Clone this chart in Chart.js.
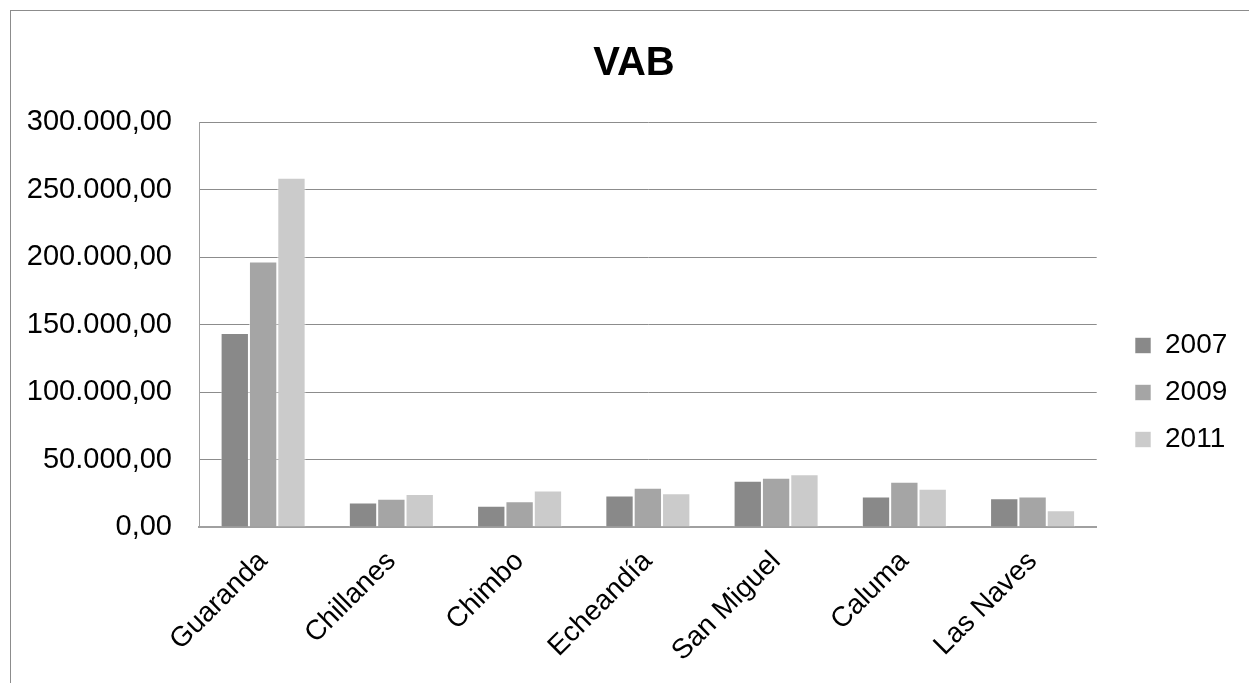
<!DOCTYPE html>
<html>
<head>
<meta charset="utf-8">
<script src="https://cdn.jsdelivr.net/npm/chart.js@4.4.1/dist/chart.umd.min.js"></script>
<style>
  html, body { margin: 0; padding: 0; background: #fff; overflow: hidden; }
  #frame { position: absolute; left: 10px; top: 10px; width: 1300px; height: 700px; border: 1px solid #8c8c8c; }
  #wrap { position: absolute; left: 0; top: 0; width: 1249px; height: 683px; }
</style>
</head>
<body>
<div id="frame"></div>
<div id="wrap"><canvas id="vabChart" width="1249" height="683"></canvas></div>
<script>
const categories = ['Guaranda', 'Chillanes', 'Chimbo', 'Echeandía', 'San Miguel', 'Caluma', 'Las Naves'];
const years = ['2007', '2009', '2011'];
const values2007 = [143700, 18200, 15800, 23300, 34200, 22600, 21300];
const values2009 = [196700, 21000, 19000, 29000, 36500, 33500, 22600];
const values2011 = [258700, 24400, 27100, 25000, 39100, 28300, 12400];
const yTicks = [0, 50000, 100000, 150000, 200000, 250000, 300000];

const fontFamily = '"Liberation Sans", Arial, sans-serif';

function formatEs(v) {
    const parts = Math.round(v).toString().replace(/\B(?=(\d{3})+(?!\d))/g, '.');
    return parts + ',00';
}

// move legend and title to where Excel put them
const boxPlace = {
    id: 'boxPlace',
    afterLayout(chart) {
        const lg = chart.legend;
        if (lg) {
            const dx = 1116 - lg.left;
            lg.left += dx; lg.right += dx;
            lg.top += 51; lg.bottom += 51;
        }
        const tb = chart.titleBlock;
        if (tb) {
            tb.left += 20; tb.right += 20;
        }
    }
};

function initializeVabChart() {
    const ctx = document.getElementById('vabChart').getContext('2d');
    new Chart(ctx, {
        type: 'bar',
        data: {
            labels: categories,
            datasets: [
                { label: years[0], data: values2007, backgroundColor: '#898989' },
                { label: years[1], data: values2009, backgroundColor: '#a5a5a5' },
                { label: years[2], data: values2011, backgroundColor: '#cbcbcb' }
            ].map(d => Object.assign(d, {
                borderColor: 'rgba(255,255,255,0.6)',
                borderWidth: 1,
                categoryPercentage: 0.663,
                barPercentage: 1
            }))
        },
        plugins: [boxPlace],
        options: {
            responsive: false,
            animation: false,
            layout: { padding: { left: 10, right: 31, top: 0, bottom: 0 } },
            plugins: {
                title: {
                    display: true,
                    text: 'VAB',
                    color: '#000',
                    font: { family: fontFamily, size: 40, weight: 'bold' },
                    padding: { top: 40, bottom: 34 }
                },
                legend: {
                    position: 'right',
                    align: 'center',
                    labels: {
                        color: '#000',
                        font: { family: fontFamily, size: 28 },
                        boxWidth: 16,
                        boxHeight: 16,
                        padding: 19
                    }
                },
                tooltip: { enabled: false }
            },
            scales: {
                x: {
                    grid: { display: false, drawTicks: false },
                    border: { display: true, color: '#a0a0a0', width: 2 },
                    ticks: {
                        color: '#000',
                        font: { family: fontFamily, size: 28 },
                        minRotation: 45,
                        maxRotation: 45,
                        padding: 18
                    },
                    afterFit: scale => { scale.height = 156; }
                },
                y: {
                    min: 0,
                    max: 300000,
                    afterBuildTicks: scale => { scale.ticks = yTicks.map(v => ({ value: v })); },
                    grid: { color: '#8c8c8c', lineWidth: 1, drawTicks: false },
                    border: { display: true, color: '#a0a0a0', width: 1 },
                    ticks: {
                        color: '#000',
                        font: { family: fontFamily, size: 29 },
                        padding: 27,
                        callback: v => formatEs(v)
                    },
                    afterFit: scale => { scale.width = 189; }
                }
            }
        }
    });
}

document.addEventListener('DOMContentLoaded', initializeVabChart);
</script>
</body>
</html>
